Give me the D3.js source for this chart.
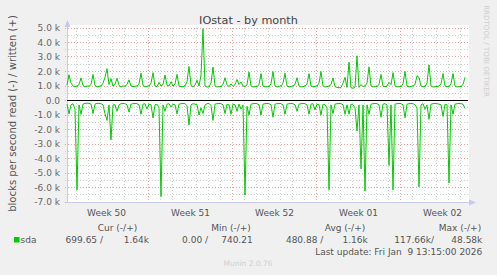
<!DOCTYPE html>
<html><head><meta charset="utf-8">
<script src="https://cdn.jsdelivr.net/npm/d3@7"></script>
<style>
body{margin:0;background:#F0F0F0;}
svg{display:block;font-family:"DejaVu Sans",sans-serif;}
</style></head>
<body><svg id="c" width="497" height="275"></svg>
<script>
// ---- data (values in thousands of blocks/s), one sample every 4 hours ----
const startTime = Date.UTC(2025, 11, 8, 6, 0);
const endTime = Date.UTC(2026, 0, 10, 16, 0);
const stepHours = 4;
const written = [
1.05,1.78,1.2,1.0,0.95,1.0,1.1,1.55,1.05,0.95,1.0,0.98,1.1,1.8,1.05,0.95,0.97,1.0,1.2,1.6,
2.2,1.1,1.5,1.0,1.1,1.53,1.05,0.95,1.0,0.98,1.1,1.42,1.0,0.95,0.98,1.0,1.15,1.88,1.05,0.95,
0.98,1.0,1.2,1.92,1.0,0.95,1.25,1.0,1.1,1.76,1.05,1.0,1.3,1.0,1.15,1.8,1.0,0.95,0.97,1.0,
1.3,2.35,1.05,0.95,1.05,1.4,1.0,1.76,4.95,1.0,0.92,0.95,1.2,2.3,1.0,0.93,0.95,0.97,1.1,1.57,
1.1,0.95,1.15,0.97,1.1,1.45,1.1,1.28,1.0,0.95,1.1,1.97,1.0,0.93,0.95,0.97,1.1,1.85,1.0,0.95,
0.95,0.97,1.15,2.0,1.0,0.93,0.97,1.0,1.2,1.88,1.0,0.95,0.97,1.0,1.1,1.57,1.0,0.93,0.95,1.0,
1.15,1.85,1.0,0.95,0.97,1.0,1.2,2.0,1.0,0.93,0.95,1.0,1.1,1.55,0.95,0.9,0.88,0.9,1.2,1.6,
0.9,2.64,0.88,0.85,0.9,3.08,0.9,1.1,0.95,1.0,1.2,2.32,1.0,0.93,0.95,0.97,1.1,1.8,1.0,0.95,
1.0,1.25,1.1,1.92,1.0,0.93,0.95,0.97,1.15,2.0,1.0,0.95,0.97,1.0,1.1,1.7,1.6,1.0,0.95,0.97,
1.2,2.45,1.0,0.93,0.95,0.97,1.0,1.15,1.85,1.0,0.95,0.97,1.15,1.85,1.0,0.93,0.95,0.97,1.1,1.6
];
const read = [
-0.25,-0.92,-0.3,-0.22,-0.6,-6.16,-0.3,-0.95,-0.25,-0.2,-0.18,-0.2,-0.25,-0.9,-0.25,-0.2,-0.2,-0.22,-0.3,-0.92,
-1.37,-0.3,-2.72,-0.3,-0.3,-0.75,-0.3,-0.22,-0.2,-0.22,-0.3,-0.8,-0.25,-0.22,-0.2,-0.22,-0.3,-0.95,-0.25,-0.22,
-0.6,-0.25,-0.3,-1.2,-0.3,-0.25,-0.5,-6.62,-0.3,-0.75,-0.25,-0.22,-0.45,-0.25,-0.3,-0.92,-0.25,-0.22,-0.2,-0.22,
-0.35,-1.7,-0.3,-0.22,-0.25,-0.3,-1.0,-0.5,-0.9,-0.3,-0.22,-0.2,-0.35,-1.37,-0.25,-0.22,-0.2,-0.22,-0.3,-0.9,
-0.25,-0.3,-0.95,-0.25,-0.3,-0.75,-0.25,-0.6,-0.3,-6.52,-0.4,-1.0,-0.25,-0.22,-0.2,-0.22,-0.3,-1.0,-0.25,-0.22,
-0.2,-0.22,-0.3,-1.15,-0.25,-0.22,-0.2,-0.22,-0.3,-0.95,-0.25,-0.22,-0.2,-0.22,-0.3,-0.75,-0.25,-0.22,-0.2,-0.22,
-0.3,-0.95,-0.25,-0.22,-0.65,-0.25,-0.3,-1.0,-0.25,-0.3,-0.5,-6.15,-0.3,-0.9,-0.25,-0.22,-0.2,-0.22,-0.3,-0.95,
-0.3,-0.95,-0.25,-0.3,-0.5,-2.1,-0.3,-4.72,-0.3,-6.25,-0.3,-0.95,-0.25,-0.22,-0.2,-0.22,-0.3,-1.15,-0.25,-0.22,
-0.3,-4.47,-0.3,-6.16,-0.25,-0.22,-0.2,-0.22,-0.3,-1.2,-0.25,-0.22,-0.2,-0.22,-0.3,-0.5,-5.95,-0.3,-0.22,-0.6,
-0.3,-1.3,-0.25,-0.22,-0.2,-0.22,-0.25,-0.3,-1.1,-0.25,-0.3,-5.68,-0.3,-0.95,-0.25,-0.22,-0.2,-0.22,-0.25,-0.55
];
const yTickValues = [5,4,3,2,1,0,-1,-2,-3,-4,-5,-6,-7];
const yTickLabels = ["5.0 k","4.0 k","3.0 k","2.0 k","1.0 k","0.0","-1.0 k","-2.0 k","-3.0 k","-4.0 k","-5.0 k","-6.0 k","-7.0 k"];
const weekStarts = [Date.UTC(2025,11,8),Date.UTC(2025,11,15),Date.UTC(2025,11,22),Date.UTC(2025,11,29),Date.UTC(2026,0,5)];
const weekLabels = ["Week 50","Week 51","Week 52","Week 01","Week 02"];
const seriesName = "sda";
const legendHeaders = ["Cur (-/+)","Min (-/+)","Avg (-/+)","Max (-/+)"];
const legendRead = ["699.65 /","0.00 /","480.88 /","117.66k/"];
const legendWritten = ["1.64k","740.21","1.16k","48.58k"];
const lastUpdate = "Last update: Fri Jan  9 13:15:00 2026";

// ---- layout ----
const svg = d3.select("#c");
const L = 67, R = 468, T = 28, B = 202;
const x = d3.scaleUtc().domain([new Date(startTime), new Date(endTime)]).range([L, R]);
const y = d3.scaleLinear().domain([-7, 5]).range([B, T]);
const px = v => Math.floor(v) + 0.5;
const green = "#00CC00";

function fit(sel, w) {
  const n = sel.node();
  const fs = parseFloat(sel.attr("font-size"));
  const len = n.getComputedTextLength();
  sel.attr("font-size", fs * w / len);
}

// plot background
svg.append("rect").attr("x", L).attr("y", 25).attr("width", R - L + 1).attr("height", B - 25 + 1).attr("fill", "#fff");

const grid = svg.append("g");
// minor horizontal
d3.range(-6.5, 5, 1).forEach(v => {
  grid.append("line").attr("x1", L - 2).attr("x2", R).attr("y1", px(y(v))).attr("y2", px(y(v)))
    .attr("stroke", "#d0d0d0").attr("stroke-dasharray", "1,2");
});
// minor vertical (days)
d3.utcDay.range(new Date(startTime), new Date(endTime)).forEach(d => {
  grid.append("line").attr("x1", px(x(d))).attr("x2", px(x(d))).attr("y1", T).attr("y2", B + 2)
    .attr("stroke", "#d0d0d0").attr("stroke-dasharray", "1,2");
});
// major horizontal
yTickValues.forEach(v => {
  grid.append("line").attr("x1", L - 2).attr("x2", R).attr("y1", px(y(v))).attr("y2", px(y(v)))
    .attr("stroke", "#e9a0a0").attr("stroke-dasharray", "1,2");
});
// major vertical (weeks)
weekStarts.forEach(d => {
  const xv = x(new Date(d));
  if (xv < L || xv > R) return;
  grid.append("line").attr("x1", px(xv)).attr("x2", px(xv)).attr("y1", T).attr("y2", B + 3)
    .attr("stroke", "#e9a0a0").attr("stroke-dasharray", "1,2");
});

// axes lines with arrows
const axc = "#c8c8f0";
svg.append("line").attr("x1", px(L)).attr("x2", px(L)).attr("y1", 24).attr("y2", B + 1).attr("stroke", axc);
svg.append("path").attr("d", `M${L-2.5},27 L${L+0.5},20 L${L+3.5},27 Z`).attr("fill", axc);
svg.append("line").attr("x1", L - 1).attr("x2", R + 2).attr("y1", px(B)).attr("y2", px(B)).attr("stroke", axc);
svg.append("path").attr("d", `M${R+1},${B-2.5} L${R+8},${B+0.5} L${R+1},${B+3.5} Z`).attr("fill", axc);

// zero line
svg.append("line").attr("x1", L).attr("x2", R).attr("y1", y(0)).attr("y2", y(0)).attr("stroke", "#000");

// series
const times = written.map((_, i) => new Date(startTime + i * stepHours * 3600e3));
const line = d3.line().x((d, i) => x(times[i])).y(d => y(d));
svg.append("path").datum(written).attr("d", line).attr("fill", "none").attr("stroke", green).attr("stroke-width", 1);
svg.append("path").datum(read).attr("d", line).attr("fill", "none").attr("stroke", green).attr("stroke-width", 1);

// y axis labels
const ya = svg.append("g").attr("transform", "translate(62,0)")
  .call(d3.axisLeft(y).tickValues(yTickValues).tickFormat((d, i) => yTickLabels[i]).tickSize(0).tickPadding(2));
ya.select(".domain").remove();
ya.selectAll("text").attr("font-family", "DejaVu Sans").attr("font-size", 9).attr("fill", "#666");

// x axis labels at mid-week
const weekMid = weekStarts.map(d => new Date(d + 3.5 * 86400e3));
const xa = svg.append("g").attr("transform", "translate(0,203)")
  .call(d3.axisBottom(x).tickValues(weekMid).tickFormat((d, i) => weekLabels[i]).tickSize(0).tickPadding(7));
xa.select(".domain").remove();
xa.selectAll("text").attr("font-family", "DejaVu Sans").attr("font-size", 9).attr("fill", "#555");

// title
const title = svg.append("text").attr("x", 248.5).attr("y", 24).attr("text-anchor", "middle")
  .attr("font-size", 11).attr("fill", "#444").text("IOstat - by month");
fit(title, 99);

// y title
const yt = svg.append("text").attr("transform", "translate(16,113.5) rotate(-90)").attr("text-anchor", "middle")
  .attr("font-size", 10).attr("fill", "#555").text("blocks per second read (-) / written (+)");
fit(yt, 197);

// rrdtool watermark
const wm = svg.append("text").attr("transform", "translate(484,51) rotate(90)").attr("text-anchor", "middle")
  .attr("font-size", 7).attr("fill", "#cfcfcf").text("RRDTOOL / TOBI OETIKER");
fit(wm, 92);

// legend
const lg = svg.append("g").attr("font-size", 9).attr("fill", "#555");
const headerX = [117.5, 231, 345, 460];
legendHeaders.forEach((h, i) => lg.append("text").attr("x", headerX[i]).attr("y", 231).attr("text-anchor", "middle").text(h));
svg.append("rect").attr("x", 14).attr("y", 237).attr("width", 5.5).attr("height", 5.5).attr("fill", green);
lg.append("text").attr("x", 20.5).attr("y", 243).text(seriesName);
const readX = [103, 208, 323.3, 434];
const wrX = [149, 252.7, 367.7, 482.3];
legendRead.forEach((t, i) => lg.append("text").attr("x", readX[i]).attr("y", 243).attr("text-anchor", "end").text(t));
legendWritten.forEach((t, i) => lg.append("text").attr("x", wrX[i]).attr("y", 243).attr("text-anchor", "end").text(t));
const lu = lg.append("text").attr("x", 482.3).attr("y", 255).attr("text-anchor", "end").attr("xml:space", "preserve")
  .style("white-space", "pre").text(lastUpdate);
svg.append("text").attr("x", 248).attr("y", 266).attr("text-anchor", "middle").attr("font-size", 7.5)
  .attr("fill", "#cfcfcf").text("Munin 2.0.76");
</script></body></html>
